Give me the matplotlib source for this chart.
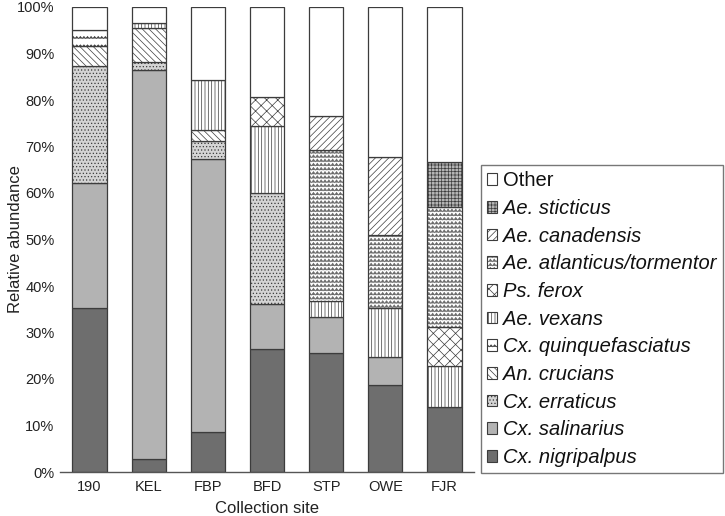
import numpy as np
import matplotlib
matplotlib.use("Agg")
import matplotlib.pyplot as plt
import matplotlib.patches as mpatches
import matplotlib.hatch as mhatch
import matplotlib.colors as mcolors
from matplotlib.path import Path

# ---------------- data ----------------
sites = ["190", "KEL", "FBP", "BFD", "STP", "OWE", "FJR"]
# stacked bottom -> top
nigripalpus      = [35.2,  2.7,  8.5, 26.5, 25.5, 18.7, 14.0]
salinarius       = [27.0, 83.7, 58.8,  9.6,  7.9,  6.1,  0.0]
erraticus        = [25.1,  1.7,  3.9, 23.8,  0.0,  0.0,  0.0]
crucians         = [ 4.3,  7.4,  2.3,  0.0,  0.0,  0.0,  0.0]
quinquefasciatus = [ 3.5,  0.0,  0.0,  0.0,  0.0,  0.0,  0.0]
vexans           = [ 0.0,  1.0, 10.9, 14.6,  3.4, 10.4,  8.9]
ferox            = [ 0.0,  0.0,  0.0,  6.2,  0.0,  0.0,  8.3]
atlanticus       = [ 0.0,  0.0,  0.0,  0.0, 32.5, 15.8, 25.7]
canadensis       = [ 0.0,  0.0,  0.0,  0.0,  7.3, 16.8,  0.0]
sticticus        = [ 0.0,  0.0,  0.0,  0.0,  0.0,  0.0,  9.7]
other            = [ 4.9,  3.5, 15.6, 19.3, 23.4, 32.2, 33.4]

series_names = ["Cx. nigripalpus", "Cx. salinarius", "Cx. erraticus", "An. crucians",
                "Cx. quinquefasciatus", "Ae. vexans", "Ps. ferox",
                "Ae. atlanticus/tormentor", "Ae. canadensis", "Ae. sticticus", "Other"]
series_values = [nigripalpus, salinarius, erraticus, crucians, quinquefasciatus,
                 vexans, ferox, atlanticus, canadensis, sticticus, other]
y_ticks = [0, 10, 20, 30, 40, 50, 60, 70, 80, 90, 100]

# ---------------- custom zigzag hatches ----------------
class _ZigZagBase(mhatch.HatchPatternBase):
    char = "z"
    teeth = 32
    amp_frac = 0.3

    def __init__(self, hatch, density):
        self.rows = int(hatch.count(self.char) * density)
        self.pts = 2 * self.teeth + 1
        self.num_vertices = self.rows * self.pts if self.rows > 0 else 0

    def set_vertices_and_codes(self, vertices, codes):
        amp = self.amp_frac / self.rows
        xs = np.linspace(0, 1, self.pts)
        offs = np.where(np.arange(self.pts) % 2 == 0, -amp, amp)
        for i in range(self.rows):
            y = (i + 0.5) / self.rows
            s = slice(i * self.pts, (i + 1) * self.pts)
            vertices[s, 0] = xs
            vertices[s, 1] = y + offs
            codes[s] = Path.LINETO
            codes[i * self.pts] = Path.MOVETO


class _DenseZigZag(_ZigZagBase):
    char = "z"
    teeth = 26
    amp_frac = 0.32


class _SparseWave(_ZigZagBase):
    char = "w"
    teeth = 28
    amp_frac = 0.12


mhatch._hatch_types.append(_DenseZigZag)
mhatch._hatch_types.append(_SparseWave)
mhatch._validate_hatch_pattern = lambda h: None

plt.rcParams["font.family"] = ["Liberation Sans", "DejaVu Sans"]
plt.rcParams["hatch.linewidth"] = 0.5

styles = {
    "Cx. nigripalpus":          dict(fc="#6e6e6e", hatch=None, hc=None),
    "Cx. salinarius":           dict(fc="#b3b3b3", hatch=None, hc=None),
    "Cx. erraticus":            dict(fc="#d4d4d4", hatch=".....", hc=None),
    "An. crucians":             dict(fc="white", hatch="\\\\\\\\\\", hc=None),
    "Cx. quinquefasciatus":     dict(fc="white", hatch="ww", hc=None),
    "Ae. vexans":               dict(fc="white", hatch="|||||", hc=None),
    "Ps. ferox":                dict(fc="white", hatch="xxx", hc=None),
    "Ae. atlanticus/tormentor": dict(fc="white", hatch="zzzz", hc="#6a6a6a"),
    "Ae. canadensis":           dict(fc="white", hatch="/////", hc=None),
    "Ae. sticticus":            dict(fc="#b5b5b5", hatch="+++++", hc=None),
    "Other":                    dict(fc="white", hatch=None, hc=None),
}
edge = "#3c3c3c"

fig = plt.figure(figsize=(7.25, 5.16), dpi=100)
ax = fig.add_axes([60 / 725, 1 - 472 / 516, 414 / 725, 465 / 516])

x = np.arange(len(sites))
bottom = np.zeros(len(sites))
for name, vals in zip(series_names, series_values):
    vals = np.array(vals, dtype=float)
    st = styles[name]
    bars = ax.bar(x, vals, bottom=bottom, width=0.58, color=st["fc"],
                  hatch=st["hatch"], edgecolor=edge, linewidth=0.9, zorder=2)
    for p, v in zip(bars.patches, vals):
        if v <= 0:
            p.set_visible(False)
        if st["hc"] is not None:
            p._hatch_color = mcolors.to_rgba(st["hc"])
    bottom += vals

ax.set_xlim(-0.5, len(sites) - 0.5)
ax.set_ylim(0, 100)
ax.set_yticks(y_ticks)
ax.set_yticklabels([f"{v}%" for v in y_ticks])
ax.set_xticks(x)
ax.set_xticklabels(sites)
ax.tick_params(axis="both", length=0, labelsize=10.5, colors="#222222")
ax.tick_params(axis="x", pad=6)
ax.tick_params(axis="y", pad=4)
for s in ["top", "right", "left"]:
    ax.spines[s].set_visible(False)
ax.spines["bottom"].set_color("#555555")
ax.spines["bottom"].set_linewidth(1.0)

ax.set_xlabel("Collection site", fontsize=12, color="#222222", labelpad=5)
ax.set_ylabel("Relative abundance", fontsize=12, color="#222222")
ax.yaxis.set_label_coords((23 - 60) / 414, 0.5)

handles = []
labels = []
for name in reversed(series_names):
    st = styles[name]
    h = mpatches.Patch(facecolor=st["fc"], hatch=st["hatch"],
                       edgecolor=edge, linewidth=0.8)
    if st["hc"] is not None:
        h._hatch_color = mcolors.to_rgba(st["hc"])
    handles.append(h)
    labels.append(name)

leg = fig.legend(handles, labels, loc="lower left",
                 bbox_to_anchor=(481 / 725, 1 - 473 / 516),
                 bbox_transform=fig.transFigure, borderaxespad=0,
                 fontsize=14.5, handlelength=0.5, handleheight=0.5,
                 handletextpad=0.3, labelspacing=0.43, borderpad=0.3,
                 fancybox=False, frameon=True)
leg.get_frame().set_edgecolor("#555555")
leg.get_frame().set_linewidth(1.0)
for t in leg.get_texts():
    t.set_color("#111111")
    if t.get_text() != "Other":
        t.set_fontstyle("italic")

fig.savefig("out.png", dpi=100)
